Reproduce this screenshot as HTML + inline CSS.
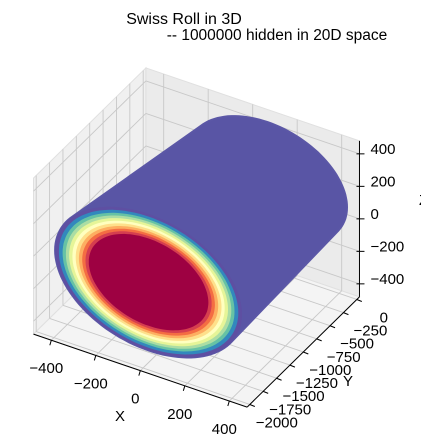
<!DOCTYPE html>
<html><head><meta charset="utf-8"><style>
html,body{margin:0;padding:0;background:#fff}
svg{display:block;font-family:"Liberation Sans",sans-serif}
</style></head><body>
<svg id="c" width="421" height="444" viewBox="0 0 421 444">
<text x="184" y="24" font-size="16" text-anchor="middle">Swiss Roll in 3D</text>
<text x="277" y="40" font-size="15.5" text-anchor="middle">-- 1000000 hidden in 20D space</text>
<g id="panes"></g><g id="grid"></g><g id="roll"></g><g id="axes"></g>
</svg>
<script>
const xTicks=[-400,-200,0,200,400];
const yTicks=[0,-250,-500,-750,-1000,-1250,-1500,-1750,-2000];
const zTicks=[-400,-200,0,200,400];
const xLim=[-480,480], yLim=[-2050,50], zLim=[-480,480];
const rollRadius=[420];
const rollCenter=[25,60];
const rollSpan=[-2000,0];
const ringColors=['#5e4fa2','#3288bd','#66c2a5','#abdda4','#e6f598','#ffffbf','#fee08b','#fdae61','#f46d43','#d53e4f','#9e0142'];
const ringFrac=[1.0,0.96,0.92,0.885,0.85,0.815,0.78,0.745,0.71,0.675,0.64];
const NS='http://www.w3.org/2000/svg';
function P(x,y,z){return [143+0.2225*x+0.0535*(y+2000), 368+0.076*x-0.0525*(y+2000)-0.1625*(z+480)];}
function mk(tag,attrs,parent){const e=document.createElementNS(NS,tag);for(const k in attrs)e.setAttribute(k,attrs[k]);parent.appendChild(e);return e;}
function poly(pts){return pts.map(p=>p[0].toFixed(1)+','+p[1].toFixed(1)).join(' ');}
const panes=document.getElementById('panes'),grid=document.getElementById('grid'),roll=document.getElementById('roll'),axes=document.getElementById('axes');
let e;
e=mk('polygon',{points:poly([P(xLim[0],yLim[0],zLim[0]),P(xLim[0],yLim[1],zLim[0]),P(xLim[0],yLim[1],zLim[1]),P(xLim[0],yLim[0],zLim[1])]),fill:'#f0f0f0',stroke:'#e0e0e0'},panes);

e=mk('polygon',{points:poly([P(xLim[0],yLim[1],zLim[0]),P(xLim[1],yLim[1],zLim[0]),P(xLim[1],yLim[1],zLim[1]),P(xLim[0],yLim[1],zLim[1])]),fill:'#ebebeb',stroke:'#e0e0e0'},panes);

e=mk('polygon',{points:poly([P(xLim[0],yLim[0],zLim[0]),P(xLim[1],yLim[0],zLim[0]),P(xLim[1],yLim[1],zLim[0]),P(xLim[0],yLim[1],zLim[0])]),fill:'#f4f4f4',stroke:'#e0e0e0'},panes);

function gl(a,b,name){const l=mk('line',{x1:a[0],y1:a[1],x2:b[0],y2:b[1],stroke:'#c8c8c8','stroke-width':0.9},grid);}
xTicks.forEach(x=>{gl(P(x,yLim[1],zLim[0]),P(x,yLim[1],zLim[1]),'grid-x-back');gl(P(x,yLim[0],zLim[0]),P(x,yLim[1],zLim[0]),'grid-x-floor');});
yTicks.forEach(y=>{gl(P(xLim[0],y,zLim[0]),P(xLim[0],y,zLim[1]),'grid-y-left');gl(P(xLim[0],y,zLim[0]),P(xLim[1],y,zLim[0]),'grid-y-floor');});
zTicks.forEach(z=>{gl(P(xLim[0],yLim[0],z),P(xLim[0],yLim[1],z),'grid-z-left');gl(P(xLim[0],yLim[1],z),P(xLim[1],yLim[1],z),'grid-z-back');});
const R=rollRadius[0],cx=rollCenter[0],cz=rollCenter[1];
// perspective: far end shrinks about its centre
function circ(y,r,n,scale,dx,dy){const c=P(cx,y,cz);const a=[];for(let i=0;i<n;i++){const t=i/n*2*Math.PI;const p=P(cx+r*Math.cos(t),y,cz+r*Math.sin(t));a.push([c[0]+dx+(p[0]-c[0])*scale,c[1]+dy+(p[1]-c[1])*scale]);}return a;}
function hull(pts){pts=pts.slice().sort((a,b)=>a[0]-b[0]||a[1]-b[1]);const cr=(o,a,b)=>(a[0]-o[0])*(b[1]-o[1])-(a[1]-o[1])*(b[0]-o[0]);const lo=[],up=[];for(const p of pts){while(lo.length>=2&&cr(lo[lo.length-2],lo[lo.length-1],p)<=0)lo.pop();lo.push(p);}for(let i=pts.length-1;i>=0;i--){const p=pts[i];while(up.length>=2&&cr(up[up.length-2],up[up.length-1],p)<=0)up.pop();up.push(p);}up.pop();lo.pop();return lo.concat(up);}
e=mk('polygon',{points:poly(hull(circ(rollSpan[0],R,120,1,0,0).concat(circ(rollSpan[1],R,120,0.85,12,3)))),fill:'#5955a5',stroke:'#5b57a6','stroke-width':2},roll);

ringColors.forEach((c,i)=>{const r=mk('polygon',{points:poly(circ(rollSpan[0],R*ringFrac[i],120,1,0,0)),fill:c},roll);
});
function al(a,b,name){const l=mk('line',{x1:a[0],y1:a[1],x2:b[0],y2:b[1],stroke:'#000','stroke-width':1},axes);}
al(P(xLim[0],yLim[0],zLim[0]),P(xLim[1],yLim[0],zLim[0]),'x-axis-line');
al(P(xLim[1],yLim[0],zLim[0]),P(xLim[1],yLim[1],zLim[0]),'y-axis-line');
al(P(xLim[1],yLim[1],zLim[0]),P(xLim[1],yLim[1],zLim[1]),'z-axis-line');
function tx(x,y,s,anchor,name){const t=mk('text',{x:x,y:y,'font-size':15,'text-anchor':anchor},axes);t.textContent=s;}
const fmt=v=>v<0?'\u2212'+(-v):''+v;
xTicks.forEach(x=>{const p=P(x,yLim[0],zLim[0]);al(p,[p[0]-1.5,p[1]+5],'x-tick');tx(p[0]-5,p[1]+33,fmt(x),'middle','x-tick-label');});
yTicks.forEach(y=>{const p=P(xLim[1],y,zLim[0]);al(p,[p[0]+5,p[1]+2],'y-tick');tx(p[0]+27,p[1]+23,fmt(y),'middle','y-tick-label');});
zTicks.forEach(z=>{const p=P(xLim[1],yLim[1],z);al([p[0]-3,p[1]],[p[0]+5,p[1]],'z-tick');tx(p[0]+11,p[1],fmt(z),'start','z-tick-label');});
tx(120,421,'X','middle','x-axis-title');
tx(348,386,'Y','middle','y-axis-title');
tx(419,205,'Z','start','z-axis-title');
</script>
</body></html>
